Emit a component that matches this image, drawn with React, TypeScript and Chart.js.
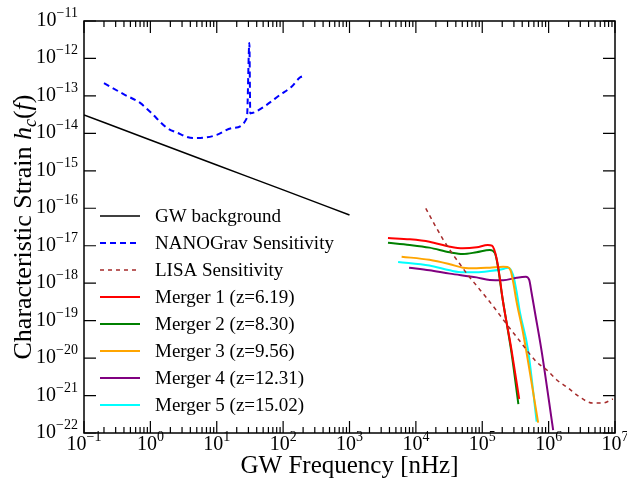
import { useEffect, useRef } from 'react';
import { Chart, registerables } from 'chart.js';

Chart.register(...registerables);

const SERIF = '"Liberation Serif", "Times New Roman", "DejaVu Serif", serif';

// Axis ranges and tick labels (powers of ten)
const xMin = 1e-1;
const xMax = 1e7;
const yMin = 1e-22;
const yMax = 1e-11;
const xTickExponents = [-1, 0, 1, 2, 3, 4, 5, 6, 7];
const yTickExponents = [-22, -21, -20, -19, -18, -17, -16, -15, -14, -13, -12, -11];
const xAxisTitle = 'GW Frequency [nHz]';

// GW background
const gwBgFreq = [0.1, 1, 10, 100, 1000];
const gwBgStrain = [3.1e-14, 6.65e-15, 1.43e-15, 3.1e-16, 6.6e-17];

// NANOGrav sensitivity
const nanoFreq = [0.2, 0.4, 0.7, 1.0, 1.78, 2.5, 4.4, 7, 10, 17.5, 28.5, 31, 32, 34, 37.6, 56, 89.5, 134, 179, 200];
const nanoStrain = [2.2e-13, 1.1e-13, 6.5e-14, 3.7e-14, 1.4e-14, 1.05e-14, 7.5e-15, 7.8e-15, 9.1e-15, 1.4e-14, 2.6e-14, 2.6e-12, 3.4e-14, 3.5e-14, 3.7e-14, 5.7e-14, 1.06e-13, 1.76e-13, 3.1e-13, 3.4e-13];

// LISA sensitivity
const lisaFreq = [1.41e4, 1.93e4, 2.55e4, 3.49e4, 4.6e4, 6.07e4, 8.3e4, 1.17e5, 1.66e5, 2.04e5, 3.68e5, 6.6e5, 9.4e5, 1.33e6, 1.88e6, 2.95e6, 4.6e6, 6.5e6, 9.3e6];
const lisaStrain = [1.0e-16, 3.57e-17, 1.51e-17, 6.4e-18, 3.25e-18, 1.65e-18, 8.4e-19, 4.0e-19, 1.8e-19, 1.1e-19, 2.85e-20, 7.85e-21, 4.8e-21, 2.6e-21, 1.69e-21, 9.1e-22, 6.3e-22, 6.3e-22, 8.1e-22];

// Merger 1 (z=6.19)
const m1Freq = [3.8e3, 8.1e3, 1.6e4, 3.25e4, 5.1e4, 8.3e4, 1.21e5, 1.4e5, 1.64e5, 1.84e5, 2.04e5, 2.76e5, 3.6e5];
const m1Strain = [1.6e-17, 1.48e-17, 1.28e-17, 9.4e-18, 8.5e-18, 9.1e-18, 1.05e-17, 1.0e-17, 4.7e-18, 1.37e-18, 3.5e-19, 1.65e-20, 8.1e-22];

// Merger 2 (z=8.30)
const m2Freq = [3.8e3, 8.1e3, 1.6e4, 3.25e4, 5.1e4, 8.2e4, 1.3e5, 1.55e5, 1.74e5, 1.95e5, 2.76e5, 3.5e5];
const m2Strain = [1.2e-17, 1.05e-17, 8.9e-18, 6.7e-18, 6.0e-18, 6.7e-18, 7.7e-18, 6.4e-18, 2.5e-18, 5.9e-19, 1.37e-20, 5.9e-22];

// Merger 3 (z=9.56)
const m3Freq = [6.1e3, 1.6e4, 3.25e4, 5.1e4, 8.2e4, 1.3e5, 2.07e5, 2.39e5, 2.67e5, 2.92e5, 3.29e5, 4.13e5, 6.95e5];
const m3Strain = [5.1e-18, 4.2e-18, 3.2e-18, 2.6e-18, 2.5e-18, 2.6e-18, 2.75e-18, 2.7e-18, 2.2e-18, 1.09e-18, 3.2e-19, 4.6e-20, 1.9e-22];

// Merger 4 (z=12.31)
const m4Freq = [7.9e3, 1.6e4, 3.25e4, 8.2e4, 1.3e5, 2.07e5, 3.29e5, 4.54e5, 5.1e5, 5.5e5, 6.2e5, 7.8e5, 1.17e6];
const m4Strain = [2.6e-18, 2.2e-18, 1.8e-18, 1.43e-18, 1.22e-18, 1.2e-18, 1.4e-18, 1.48e-18, 1.22e-18, 5.9e-19, 1.73e-19, 1.64e-20, 1.2e-22];

// Merger 5 (z=15.02)
const m5Freq = [5.4e3, 1.6e4, 3.25e4, 5.1e4, 8.2e4, 1.3e5, 2.07e5, 2.45e5, 2.92e5, 3.29e5, 3.68e5, 4.9e5, 6.6e5];
const m5Strain = [3.7e-18, 2.95e-18, 2.2e-18, 1.95e-18, 1.95e-18, 2.1e-18, 2.4e-18, 2.6e-18, 1.65e-18, 5.9e-19, 1.73e-19, 1.64e-20, 2.0e-22];

const seriesLabels = [
  'GW background',
  'NANOGrav Sensitivity',
  'LISA Sensitivity',
  'Merger 1 (z=6.19)',
  'Merger 2 (z=8.30)',
  'Merger 3 (z=9.56)',
  'Merger 4 (z=12.31)',
  'Merger 5 (z=15.02)',
];

const toPoints = (xs: number[], ys: number[]) => xs.map((x, i) => ({ x, y: ys[i] }));

function drawPow(ctx: CanvasRenderingContext2D, exp: number, x: number, baseY: number, align: 'center' | 'right') {
  const base = '10';
  const sup = (exp < 0 ? '\u2212' : '') + String(Math.abs(exp));
  ctx.font = `20px ${SERIF}`;
  const wb = ctx.measureText(base).width;
  ctx.font = `14px ${SERIF}`;
  const ws = ctx.measureText(sup).width;
  const total = wb + ws;
  const start = align === 'center' ? x - total / 2 : x - total;
  ctx.textAlign = 'left';
  ctx.textBaseline = 'alphabetic';
  ctx.font = `20px ${SERIF}`;
  ctx.fillText(base, start, baseY);
  ctx.font = `14px ${SERIF}`;
  ctx.fillText(sup, start + wb, baseY - 9);
}

const decorPlugin = {
  id: 'decor',
  afterDraw(chart: any) {
    const { ctx, chartArea, scales } = chart;
    const { left, right, top, bottom } = chartArea;
    const xs = scales.x;
    const ys = scales.y;
    ctx.save();
    ctx.strokeStyle = '#000';
    ctx.fillStyle = '#000';
    ctx.lineWidth = 1.5;
    ctx.setLineDash([]);
    ctx.strokeRect(left, top, right - left, bottom - top);

    // x ticks
    ctx.beginPath();
    xTickExponents.forEach((e) => {
      const px = xs.getPixelForValue(Math.pow(10, e));
      ctx.moveTo(px, bottom); ctx.lineTo(px, bottom - 12);
      ctx.moveTo(px, top); ctx.lineTo(px, top + 12);
      if (e < xTickExponents[xTickExponents.length - 1]) {
        for (let m = 2; m <= 9; m++) {
          const pm = xs.getPixelForValue(m * Math.pow(10, e));
          ctx.moveTo(pm, bottom); ctx.lineTo(pm, bottom - 6);
          ctx.moveTo(pm, top); ctx.lineTo(pm, top + 6);
        }
      }
    });
    // y ticks
    yTickExponents.forEach((e) => {
      const py = ys.getPixelForValue(Math.pow(10, e));
      ctx.moveTo(left, py); ctx.lineTo(left + 12, py);
      ctx.moveTo(right, py); ctx.lineTo(right - 12, py);
    });
    ctx.lineWidth = 1.2;
    ctx.stroke();

    // tick labels
    xTickExponents.forEach((e) => {
      const px = xs.getPixelForValue(Math.pow(10, e));
      drawPow(ctx, e, px, bottom + 17, 'center');
    });
    yTickExponents.forEach((e) => {
      const py = ys.getPixelForValue(Math.pow(10, e));
      drawPow(ctx, e, left - 6, py + 5, 'right');
    });

    // x title
    ctx.font = `25px ${SERIF}`;
    ctx.textAlign = 'center';
    ctx.textBaseline = 'alphabetic';
    ctx.fillText(xAxisTitle, (left + right) / 2, bottom + 40);

    // y title with math part
    const parts: [string, string, number][] = [
      ['Characteristic Strain ', `26px ${SERIF}`, 0],
      ['h', `italic 26px ${SERIF}`, 0],
      ['c', `italic 18px ${SERIF}`, 5],
      ['(', `26px ${SERIF}`, 0],
      ['f', `italic 26px ${SERIF}`, 0],
      [')', `26px ${SERIF}`, 0],
    ];
    let total = 0;
    parts.forEach(([t, f]) => { ctx.font = f; total += ctx.measureText(t).width; });
    ctx.translate(31, (top + bottom) / 2);
    ctx.rotate(-Math.PI / 2);
    ctx.textAlign = 'left';
    let cx = -total / 2;
    parts.forEach(([t, f, dy]) => {
      ctx.font = f;
      ctx.fillText(t, cx, dy);
      cx += ctx.measureText(t).width;
    });
    ctx.restore();

    // legend
    ctx.save();
    const datasets = chart.data.datasets;
    datasets.forEach((ds: any, i: number) => {
      const yy = top + 195 + i * 27;
      ctx.strokeStyle = ds.borderColor;
      ctx.lineWidth = ds.borderWidth;
      ctx.setLineDash(ds.borderDash || []);
      ctx.beginPath();
      ctx.moveTo(left + 16, yy);
      ctx.lineTo(left + 56, yy);
      ctx.stroke();
      ctx.setLineDash([]);
      ctx.fillStyle = '#000';
      ctx.font = `19px ${SERIF}`;
      ctx.textAlign = 'left';
      ctx.textBaseline = 'middle';
      ctx.fillText(ds.label, left + 71, yy + 1);
    });
    ctx.restore();
  },
};

export default function App() {
  const ref = useRef<HTMLCanvasElement>(null);
  useEffect(() => {
    document.body.style.margin = '0';
    const line = (label: string, xs: number[], ys: number[], color: string, width: number, dash?: number[]) => ({
      label,
      data: toPoints(xs, ys),
      borderColor: color,
      backgroundColor: color,
      borderWidth: width,
      borderDash: dash,
      pointRadius: 0,
      fill: false,
      cubicInterpolationMode: 'monotone' as const,
    });
    const chart = new Chart(ref.current!, {
      type: 'line',
      data: {
        datasets: [
          line(seriesLabels[0], gwBgFreq, gwBgStrain, '#000000', 1.5),
          line(seriesLabels[1], nanoFreq, nanoStrain, '#0000ff', 2, [6, 4]),
          line(seriesLabels[2], lisaFreq, lisaStrain, '#a52a2a', 1.5, [4, 4]),
          line(seriesLabels[3], m1Freq, m1Strain, '#ff0000', 2),
          line(seriesLabels[4], m2Freq, m2Strain, '#008000', 2),
          line(seriesLabels[5], m3Freq, m3Strain, '#ffa500', 2),
          line(seriesLabels[6], m4Freq, m4Strain, '#800080', 2),
          line(seriesLabels[7], m5Freq, m5Strain, '#00ffff', 2),
        ] as any,
      },
      options: {
        responsive: false,
        animation: false,
        devicePixelRatio: 1,
        layout: { padding: { left: 84, top: 21, right: 12, bottom: 45 } },
        plugins: { legend: { display: false }, tooltip: { enabled: false } },
        scales: {
          x: { type: 'logarithmic', min: xMin, max: xMax, display: false },
          y: { type: 'logarithmic', min: yMin, max: yMax, display: false },
        },
      },
      plugins: [decorPlugin],
    });
    return () => chart.destroy();
  }, []);
  return (
    <div style={{ width: 627, height: 478, background: '#fff' }}>
      <canvas ref={ref} width={627} height={478} style={{ display: 'block' }} />
    </div>
  );
}
